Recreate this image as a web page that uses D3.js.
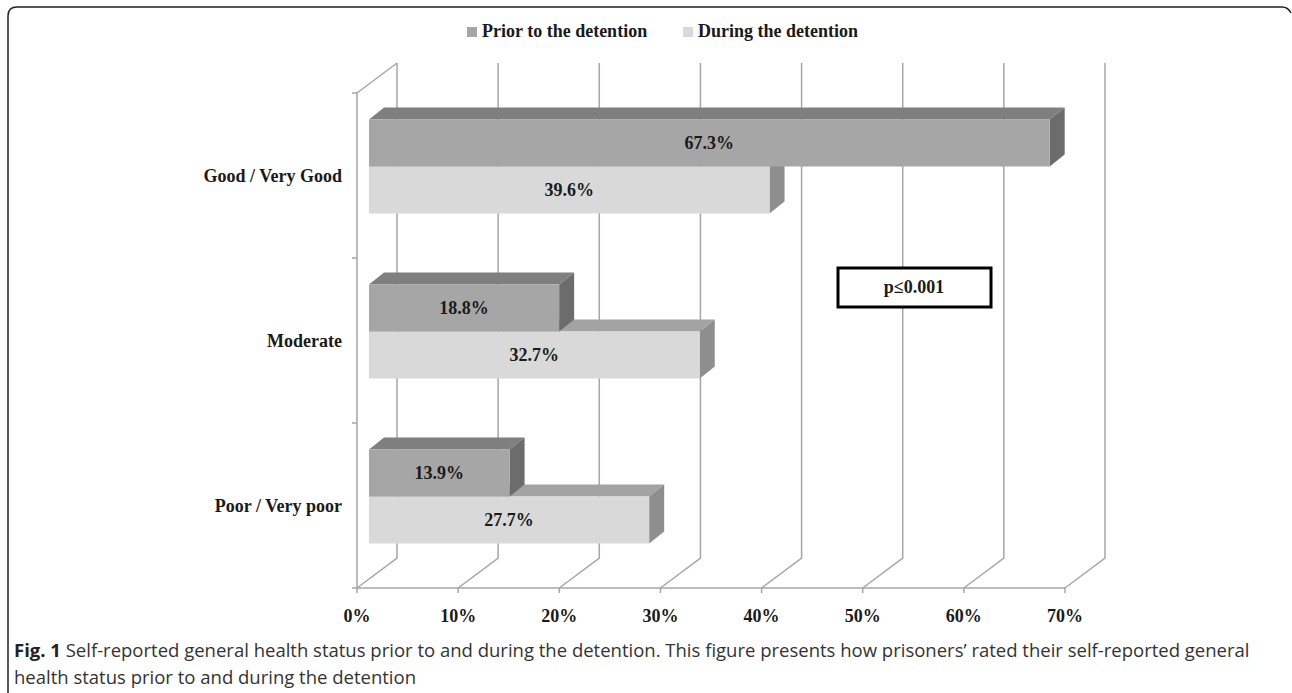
<!DOCTYPE html>
<html>
<head>
<meta charset="utf-8">
<script src="https://cdn.jsdelivr.net/npm/d3@7"></script>
<style>
  body { margin: 0; background: #fff; }
  svg text { font-family: "Liberation Serif", "Times New Roman", serif; font-weight: bold; fill: #1a1a1a; }
  svg text.cap { font-family: "Open Sans", "Noto Sans", sans-serif; font-weight: normal; fill: #333; }
</style>
</head>
<body>
<div id="chart"></div>
<script>
// Data
const categories = ["Good / Very Good", "Moderate", "Poor / Very poor"];
const seriesNames = ["Prior to the detention", "During the detention"];
const priorValues = [67.3, 18.8, 13.9];
const duringValues = [39.6, 32.7, 27.7];
const xTicks = [0, 10, 20, 30, 40, 50, 60, 70];

const W = 1292, H = 693;
const fs = "18px";

// Colours: [front, top, side]
const faceColors = {
  "Prior to the detention": ["#a6a6a6", "#7f7f7f", "#6c6c6c"],
  "During the detention": ["#d9d9d9", "#a3a3a3", "#8e8e8e"]
};

const svg = d3.select("#chart")
  .append("svg")
  .attr("width", W)
  .attr("height", H);

// Scales
const x = d3.scaleLinear().domain([0, 70]).range([357, 1065]);
const y = d3.scaleBand().domain(categories).range([93, 588]);

// depth offsets
const floor = { dx: 40, dy: -30 };
const barFront = { dx: 12, dy: -9 };
const barDepth = { dx: 15, dy: -12 };
const barH = 47;

const gridColor = "#a6a6a6";

// Floor and back wall gridlines
const grid = svg.append("g")
  .attr("stroke", gridColor)
  .attr("stroke-width", 1.5)
  .attr("fill", "none");

const yFloor = y.range()[1];
const yTop = y.range()[0];

xTicks.forEach(t => {
  const x0 = x(t);
  grid.append("polyline")
    .attr("points", [
      [x0, yFloor + 5], [x0, yFloor], [x0 + floor.dx, yFloor + floor.dy], [x0 + floor.dx, yTop + floor.dy]
    ].map(p => p.join(",")).join(" "));
});

// front floor line
grid.append("line")
  .attr("x1", x(0)).attr("x2", x(70))
  .attr("y1", yFloor).attr("y2", yFloor);

// left wall
grid.append("polyline")
  .attr("points", [[x(0), yFloor], [x(0), yTop], [x(0) + floor.dx, yTop + floor.dy]]
    .map(p => p.join(",")).join(" "));

// left ticks
categories.concat(["end"]).forEach((c, i) => {
  const ty = i < categories.length ? y(c) : yFloor;
  grid.append("line")
    .attr("x1", x(0) - 5).attr("x2", x(0))
    .attr("y1", ty).attr("y2", ty);
});

// Bars
const barsData = [];
categories.forEach((c, i) => {
  barsData.push({ cat: c, series: seriesNames[0], value: priorValues[i], row: 0 });
  barsData.push({ cat: c, series: seriesNames[1], value: duringValues[i], row: 1 });
});

const barsG = svg.append("g");

categories.forEach(c => {
  const center = y(c) + y.bandwidth() / 2 + barFront.dy;
  // draw "during" first so the "prior" bar sits over its top face
  [1, 0].forEach(row => {
    const d = barsData.find(b => b.cat === c && b.row === row);
    const cols = faceColors[d.series];
    const x0 = x(0) + barFront.dx;
    const x1 = x(d.value) + barFront.dx;
    const y0 = center - barH + row * barH;
    const y1 = y0 + barH;
    const g = barsG.append("g");
    // top face
    g.append("polygon")
      .attr("points", [[x0, y0], [x0 + barDepth.dx, y0 + barDepth.dy], [x1 + barDepth.dx, y0 + barDepth.dy], [x1, y0]]
        .map(p => p.join(",")).join(" "))
      .attr("fill", cols[1]);
    // side face
    g.append("polygon")
      .attr("points", [[x1, y0], [x1 + barDepth.dx, y0 + barDepth.dy], [x1 + barDepth.dx, y1 + barDepth.dy], [x1, y1]]
        .map(p => p.join(",")).join(" "))
      .attr("fill", cols[2]);
    // front face
    g.append("rect")
      .attr("x", x0).attr("y", y0)
      .attr("width", x1 - x0).attr("height", barH)
      .attr("fill", cols[0]);
    // label
    g.append("text")
      .attr("x", (x0 + x1) / 2)
      .attr("y", (y0 + y1) / 2)
      .attr("dy", "0.35em")
      .attr("text-anchor", "middle")
      .style("font-size", fs)
      .text(d.value.toFixed(1) + "%");
  });
});

// Category labels
categories.forEach(c => {
  svg.append("text")
    .attr("x", 342)
    .attr("y", y(c) + y.bandwidth() / 2)
    .attr("dy", "0.35em")
    .attr("text-anchor", "end")
    .style("font-size", fs)
    .text(c);
});

// X tick labels
xTicks.forEach(t => {
  svg.append("text")
    .attr("x", x(t))
    .attr("y", 622)
    .attr("text-anchor", "middle")
    .style("font-size", fs)
    .text(t + "%");
});

// Legend
const legendX = [467, 683];
seriesNames.forEach((s, i) => {
  svg.append("rect")
    .attr("x", legendX[i]).attr("y", 27)
    .attr("width", 10).attr("height", 10)
    .attr("fill", faceColors[s][0]);
  svg.append("text")
    .attr("x", legendX[i] + 15)
    .attr("y", 37)
    .style("font-size", fs)
    .text(s);
});

// p-value box
svg.append("rect")
  .attr("x", 838).attr("y", 268)
  .attr("width", 153).attr("height", 39)
  .attr("fill", "#fff")
  .attr("stroke", "#000")
  .attr("stroke-width", 3);
svg.append("text")
  .attr("x", 914).attr("y", 287)
  .attr("dy", "0.35em")
  .attr("text-anchor", "middle")
  .style("font-size", fs)
  .text("p\u22640.001");

// Outer frame
svg.append("path")
  .attr("d", `M8,${H} L8,16 Q8,7 17,7 L1282,7 Q1288,7 1291,13`)
  .attr("fill", "none")
  .attr("stroke", "#222")
  .attr("stroke-width", 1.5);

// Caption
const cap1 = svg.append("text").attr("class", "cap")
  .attr("x", 14).attr("y", 657)
  .style("font-size", "18.5px");
cap1.append("tspan").style("font-weight", "bold").style("fill", "#222").text("Fig. 1");
cap1.append("tspan").text(" Self-reported general health status prior to and during the detention. This figure presents how prisoners\u2019 rated their self-reported general");

svg.append("text").attr("class", "cap")
  .attr("x", 14).attr("y", 684)
  .style("font-size", "18.5px")
  .text("health status prior to and during the detention");
</script>
</body>
</html>
